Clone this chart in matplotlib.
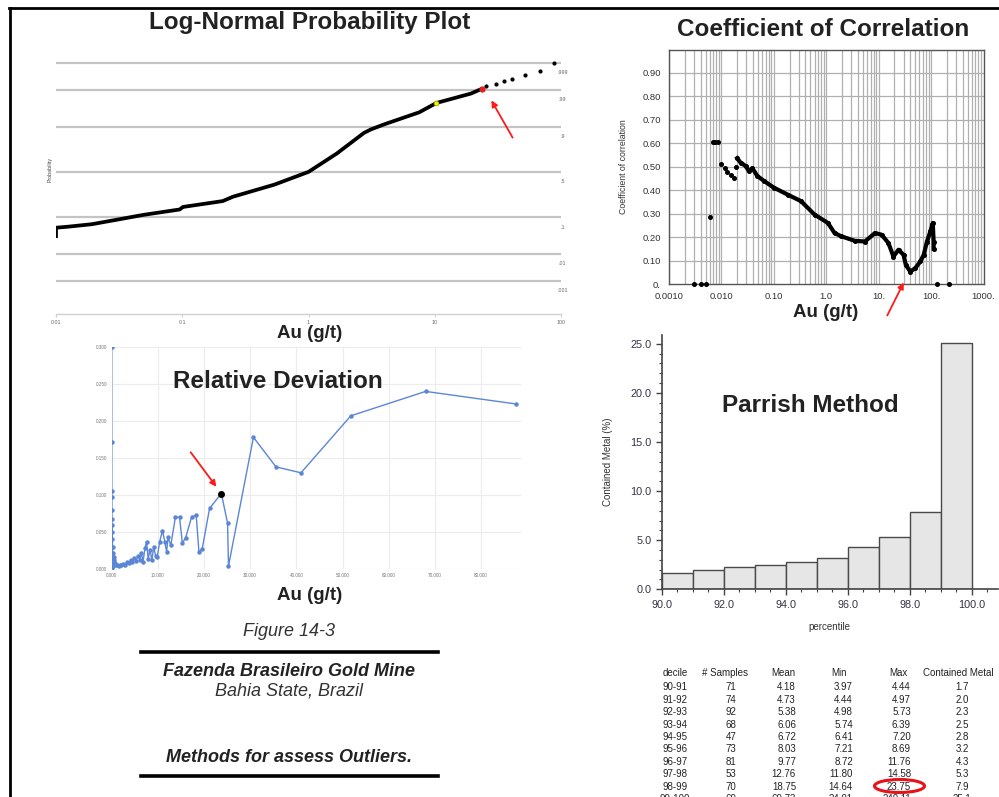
import matplotlib
matplotlib.use("Agg")
import numpy as np
import matplotlib.pyplot as plt
from matplotlib.patches import FancyArrowPatch, Ellipse
from matplotlib.lines import Line2D
from matplotlib.ticker import MultipleLocator, FixedLocator, NullLocator
from statistics import NormalDist

plt.rcParams['font.family'] = ['Liberation Sans', 'DejaVu Sans']

# ---------------- data ----------------
# Log-normal probability plot: Au grade vs cumulative probability
lognorm_au = [0.01, 0.01, 0.0124, 0.0192, 0.0298, 0.0492, 0.0953, 0.1014, 0.209, 0.252,
              0.537, 1.0, 1.67, 2.75, 3.12, 4.01, 7.53, 10.3, 19.3, 23.75]
lognorm_p = [0.031, 0.0576, 0.061, 0.070, 0.088, 0.113, 0.145, 0.162, 0.206, 0.243,
             0.362, 0.503, 0.70, 0.867, 0.887, 0.913, 0.955, 0.975, 0.987, 0.991]
tail_au = [25.3, 30.7, 35.6, 41.0, 51.8, 68.0, 87.6]
tail_p = [0.9925, 0.994, 0.995, 0.996, 0.997, 0.998, 0.999]
yellow_pt = (10.3, 0.975)
red_pt = (23.75, 0.991)
prob_levels = [0.999, 0.99, 0.9, 0.5, 0.1, 0.01, 0.001]
prob_labels = ['.999', '.99', '.9', '.5', '.1', '.01', '.001']

# Coefficient of correlation vs cut-off grade
cc_au = [0.003, 0.004, 0.0051, 0.006, 0.0068, 0.0076, 0.0085, 0.00986, 0.0115, 0.0129,
         0.0154, 0.0174, 0.0186, 0.020, 0.0232, 0.029, 0.0336, 0.039, 0.0485, 0.065,
         0.101, 0.183, 0.330, 0.597, 1.076, 1.44, 1.95, 3.51, 5.46, 8.5, 11.4, 15.4,
         19.1, 23.9, 29.8, 33.0, 40.0, 49.8, 62.4, 72.3, 83.4, 97.0, 107.7, 112.0, 112.0,
         130.0, 218.0]
cc_val = [0.0, 0.0, 0.0, 0.286, 0.607, 0.607, 0.607, 0.513, 0.493, 0.479,
          0.464, 0.453, 0.50, 0.536, 0.517, 0.503, 0.48, 0.493, 0.46, 0.439,
          0.41, 0.381, 0.353, 0.296, 0.26, 0.217, 0.203, 0.184, 0.181, 0.217, 0.21, 0.174,
          0.117, 0.146, 0.124, 0.081, 0.053, 0.067, 0.096, 0.124, 0.181, 0.224, 0.26, 0.179, 0.15,
          0.0, 0.0]

# Relative deviation vs Au
rd_au = [0.00, 0.01, 0.02, 0.03, 0.04, 0.05, 0.06, 0.08, 0.10, 0.12, 0.15, 0.2, 0.25, 0.3,
         0.4, 0.5, 0.7, 0.9, 1.2, 1.5, 1.8, 2.1, 2.5, 2.9, 3.3, 3.7, 4.1, 4.5, 4.9, 5.3,
         5.7, 6.1, 6.4, 6.8, 7.2, 7.55, 7.9, 8.3, 8.7, 9.1, 9.5, 9.86, 10.4, 11.0, 11.5,
         11.9, 12.2, 12.8, 13.8, 14.7, 15.3, 16.0, 17.3, 18.3, 18.9, 19.6, 21.2, 23.75,
         25.1, 25.3, 30.7, 35.6, 41.0, 51.8, 68.0, 87.6]
rd_val = [0.300, 0.172, 0.105, 0.097, 0.080, 0.067, 0.002, 0.060, 0.003, 0.050, 0.040, 0.030,
          0.004, 0.022, 0.016, 0.012, 0.008, 0.006, 0.005, 0.004, 0.006, 0.005, 0.007, 0.006,
          0.009, 0.008, 0.012, 0.010, 0.015, 0.011, 0.018, 0.012, 0.022, 0.010, 0.028, 0.037,
          0.014, 0.026, 0.012, 0.030, 0.018, 0.016, 0.037, 0.052, 0.037, 0.023, 0.043, 0.032,
          0.070, 0.070, 0.035, 0.042, 0.070, 0.073, 0.023, 0.027, 0.082, 0.102, 0.062, 0.004,
          0.178, 0.138, 0.130, 0.207, 0.240, 0.223]
rd_highlight = (23.75, 0.102)

# Parrish method decile table
deciles = ['90-91', '91-92', '92-93', '93-94', '94-95', '95-96', '96-97', '97-98', '98-99', '99-100']
n_samples = ['71', '74', '92', '68', '47', '73', '81', '53', '70', '69']
mean_au = ['4.18', '4.73', '5.38', '6.06', '6.72', '8.03', '9.77', '12.76', '18.75', '69.73']
min_au = ['3.97', '4.44', '4.98', '5.74', '6.41', '7.21', '8.72', '11.80', '14.64', '24.01']
max_au = ['4.44', '4.97', '5.73', '6.39', '7.20', '8.69', '11.76', '14.58', '23.75', '240.11']
contained_metal = [1.7, 2.0, 2.3, 2.5, 2.8, 3.2, 4.3, 5.3, 7.9, 25.1]
percentile_start = [90, 91, 92, 93, 94, 95, 96, 97, 98, 99]

# ---------------- figure ----------------
W, H = 999, 797
fig = plt.figure(figsize=(W / 100, H / 100), dpi=100)
TITLE_FS = 17.5


def fx(x):
    return x / W


def fy(y):
    return 1 - y / H


def box(l, t, r, b):
    return fig.add_axes([fx(l), fy(b), (r - l) / W, (b - t) / H])


def ftext(x, y, s, **kw):
    kw.setdefault('ha', 'center')
    kw.setdefault('va', 'center')
    fig.text(fx(x), fy(y), s, **kw)


def farrow(x0, y0, x1, y1):
    fig.add_artist(FancyArrowPatch((fx(x0), fy(y0)), (fx(x1), fy(y1)),
                                   transform=fig.transFigure, arrowstyle='-|>',
                                   mutation_scale=9, color='#ff1a1a', lw=1.3))


def fline(x0, y0, x1, y1, **kw):
    fig.add_artist(Line2D([fx(x0), fx(x1)], [fy(y0), fy(y1)], transform=fig.transFigure, **kw))


# page frame
fline(9, 8, 999, 8, color='black', lw=2)
fline(10, 8, 10, 797, color='black', lw=2)

# ---- Log-normal probability plot ----
z = NormalDist().inv_cdf
ax1 = box(56, 55, 561, 314)
ax1.set_xscale('log')
ax1.set_xlim(0.01, 100)
ax1.set_ylim(-4.02, 3.32)
for p, lbl in zip(prob_levels, prob_labels):
    ax1.axhline(z(p), color='#c4c4c4', lw=1.6, zorder=1)
    ax1.annotate(lbl, xy=(1.0, z(p)), xycoords=('axes fraction', 'data'),
                 xytext=(1, -7), textcoords='offset points', ha='center', va='center',
                 fontsize=3.8, color='#666666', annotation_clip=False)
ax1.plot(lognorm_au, [z(p) for p in lognorm_p], color='black', lw=2.7, solid_capstyle='butt', zorder=3)
ax1.plot(tail_au, [z(p) for p in tail_p], 'o', color='black', ms=2.0, zorder=3)
ax1.plot([yellow_pt[0]], [z(yellow_pt[1])], 'o', color='#f2f200', mec='#999900', ms=3.5, mew=0.5, zorder=4)
ax1.plot([red_pt[0]], [z(red_pt[1])], 'o', color='#e02020', ms=3.5, zorder=4)
for s in ['top', 'left', 'right']:
    ax1.spines[s].set_visible(False)
ax1.spines['bottom'].set_color('#d0d0d0')
ax1.spines['bottom'].set_linewidth(1.0)
ax1.set_yticks([])
ax1.xaxis.set_major_locator(FixedLocator([0.01, 0.1, 1, 10, 100]))
ax1.xaxis.set_minor_locator(NullLocator())
ax1.set_xticklabels(['0.01', '0.1', '1', '10', '100'])
ax1.tick_params(axis='x', labelsize=3.8, labelcolor='#666666', color='#d0d0d0', length=2, pad=2)
ax1.patch.set_alpha(0)
ftext(310, 22, 'Log-Normal Probability Plot', fontsize=TITLE_FS, fontweight='bold', color='#222222')
ftext(50, 170, 'Probability', fontsize=3.8, rotation=90, color='#444444')
ftext(310, 333, 'Au (g/t)', fontsize=13.5, fontweight='bold', color='#222222')
farrow(514, 140, 490, 98)

# ---- Coefficient of correlation ----
ax2 = box(669, 50, 983.5, 284)
ax2.set_xscale('log')
ax2.set_xlim(0.001, 1000)
ax2.set_ylim(0, 0.997)
vlines = [m * 10.0 ** e for e in range(-3, 3) for m in range(1, 10)]
for v in vlines:
    ax2.axvline(v, color='#b0b0b0', lw=0.9, zorder=1)
for yv in np.arange(0.1, 0.95, 0.1):
    ax2.axhline(yv, color='#b0b0b0', lw=0.9, zorder=1)
ax2.plot(cc_au[13:45], cc_val[13:45], color='black', lw=3.0, zorder=3)
ax2.plot(cc_au, cc_val, 'o', color='black', ms=2.6, zorder=4, clip_on=False)
for s in ax2.spines.values():
    s.set_color('#555555')
    s.set_linewidth(1.0)
ax2.xaxis.set_major_locator(FixedLocator([0.001, 0.01, 0.1, 1, 10, 100, 1000]))
ax2.xaxis.set_minor_locator(NullLocator())
ax2.set_xticklabels(['0.0010', '0.010', '0.10', '1.0', '10.', '100.', '1000.'])
ax2.yaxis.set_major_locator(FixedLocator(list(np.round(np.arange(0, 0.95, 0.1), 2))))
ax2.set_yticklabels(['0.'] + ['%.2f' % v for v in np.arange(0.1, 0.95, 0.1)])
ax2.tick_params(labelsize=6.8, labelcolor='#333333', length=0, pad=6)
ax2.set_ylabel('Coefficient of correlation', fontsize=6.3, color='#333333', labelpad=10)
ftext(823, 30, 'Coefficient of Correlation', fontsize=TITLE_FS, fontweight='bold', color='#222222')
ftext(826, 312, 'Au (g/t)', fontsize=13.5, fontweight='bold', color='#222222')
farrow(886, 318, 905, 280)

# ---- Relative deviation ----
ax3 = box(111.7, 347, 520.7, 569)
ax3.set_xlim(0, 88.6)
ax3.set_ylim(0, 0.3)
ax3.xaxis.set_major_locator(MultipleLocator(10))
ax3.yaxis.set_major_locator(MultipleLocator(0.05))
ax3.grid(True, color='#ececec', lw=0.8)
ax3.set_axisbelow(True)
ax3.plot(rd_au, rd_val, '-o', color='#5b86d6', lw=1.0, ms=2.2, clip_on=True, zorder=3)
ax3.plot([rd_highlight[0]], [rd_highlight[1]], 'o', color='black', ms=4, zorder=4)
for s in ax3.spines.values():
    s.set_visible(False)
ax3.xaxis.set_major_formatter(plt.FuncFormatter(lambda v, p: '%.3f' % v))
ax3.yaxis.set_major_formatter(plt.FuncFormatter(lambda v, p: '%.3f' % v))
ax3.tick_params(labelsize=3.3, labelcolor='#777777', length=0, pad=3)
ftext(278, 381, 'Relative Deviation', fontsize=TITLE_FS, fontweight='bold', color='#222222')
ftext(310, 595, 'Au (g/t)', fontsize=13.5, fontweight='bold', color='#222222')
farrow(189, 450, 218, 489)

# ---- Parrish method ----
ax4 = box(661.7, 335, 998, 589.3)
ax4.bar(percentile_start, contained_metal, width=1.0, align='edge', color='#e6e6e6',
        edgecolor='#4a4a4a', lw=1.0, zorder=2)
ax4.set_xlim(90, 100.85)
ax4.set_ylim(0, 25.9)
ax4.xaxis.set_major_locator(MultipleLocator(2))
ax4.xaxis.set_minor_locator(MultipleLocator(0.5))
ax4.yaxis.set_major_locator(MultipleLocator(5))
ax4.yaxis.set_minor_locator(MultipleLocator(1))
ax4.xaxis.set_major_formatter(plt.FuncFormatter(lambda v, p: '%.1f' % v))
ax4.yaxis.set_major_formatter(plt.FuncFormatter(lambda v, p: '%.1f' % v))
for s in ['top', 'right']:
    ax4.spines[s].set_visible(False)
for s in ['left', 'bottom']:
    ax4.spines[s].set_color('#444444')
    ax4.spines[s].set_linewidth(1.2)
ax4.tick_params(which='major', labelsize=7.8, labelcolor='#333344', color='#444444', length=4, width=1)
ax4.tick_params(which='minor', color='#444444', length=2.5, width=0.8)
ax4.patch.set_alpha(0)
ax4.set_ylabel('Contained Metal (%)', fontsize=7, color='#333333', labelpad=12)
ax4.set_xlabel('percentile', fontsize=7, color='#333333', labelpad=9)
ftext(810, 405, 'Parrish Method', fontsize=TITLE_FS, fontweight='bold', color='#222222')

# ---- Decile table ----
row_y0 = 687.3
row_dy = 12.4
TFS = 7
ftext(675, 673.3, 'decile', fontsize=TFS, color='#222222')
ftext(725, 673.3, '# Samples', fontsize=TFS, color='#222222')
ftext(783, 673.3, 'Mean', fontsize=TFS, color='#222222')
ftext(839, 673.3, 'Min', fontsize=TFS, color='#222222')
ftext(898, 673.3, 'Max', fontsize=TFS, color='#222222')
ftext(958, 673.3, 'Contained Metal', fontsize=TFS, color='#222222')
for i in range(len(deciles)):
    yy = row_y0 + i * row_dy
    ftext(675, yy, deciles[i], fontsize=TFS, color='#222222')
    ftext(731, yy, n_samples[i], fontsize=TFS, color='#222222')
    ftext(796, yy, mean_au[i], fontsize=TFS, color='#222222', ha='right')
    ftext(853, yy, min_au[i], fontsize=TFS, color='#222222', ha='right')
    ftext(911, yy, max_au[i], fontsize=TFS, color='#222222', ha='right')
    ftext(962, yy, '%.1f' % contained_metal[i], fontsize=TFS, color='#222222')
fig.add_artist(Ellipse((fx(899.5), fy(786)), 50 / W, 13 / H, transform=fig.transFigure,
                       fill=False, edgecolor='#e8121a', lw=2.2))

# ---- caption block ----
CFS = 13
ftext(289, 632, 'Figure 14-3', fontsize=CFS, style='italic', color='#333333')
fline(141, 652, 438, 652, color='black', lw=2.6)
ftext(289, 671, 'Fazenda Brasileiro Gold Mine', fontsize=CFS, style='italic', fontweight='bold', color='#222222')
ftext(289, 691.5, 'Bahia State, Brazil', fontsize=CFS, style='italic', color='#333333')
ftext(289, 757, 'Methods for assess Outliers.', fontsize=CFS, style='italic', fontweight='bold', color='#222222')
fline(141, 776, 438, 776, color='black', lw=2.6)

fig.savefig('out.png', dpi=100)
